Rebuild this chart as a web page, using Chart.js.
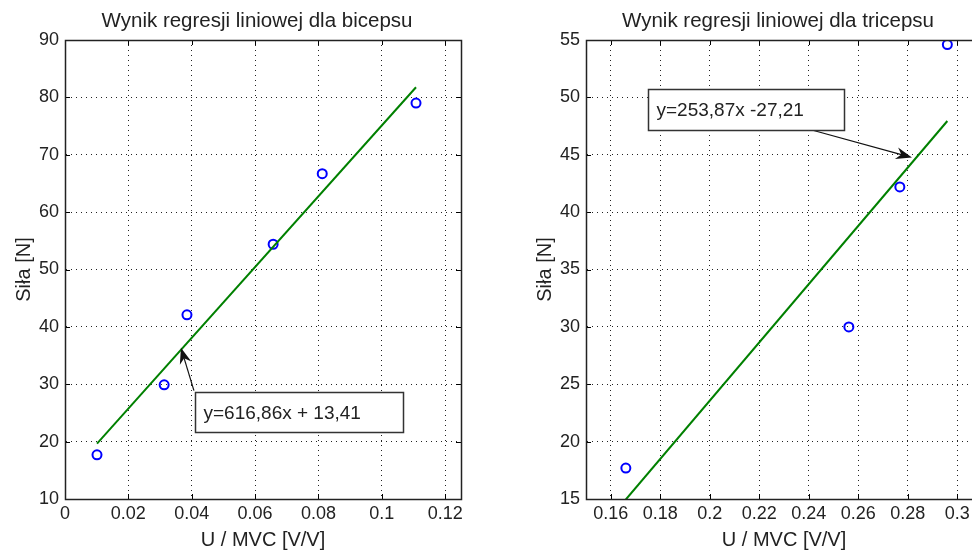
<!DOCTYPE html>
<html>
<head>
<meta charset="utf-8">
<script src="https://cdn.jsdelivr.net/npm/chart.js@4.4.0/dist/chart.umd.min.js"></script>
<style>
    html, body { margin: 0; padding: 0; background: #fff; overflow: hidden; width: 972px; height: 554px; }
    .panel { position: absolute; top: 0; width: 486px; height: 554px; }
</style>
</head>
<body>
<div class="panel" style="left:0"><canvas id="bicepsChart" width="486" height="554"></canvas></div>
<div class="panel" style="left:521px"><canvas id="tricepsChart" width="486" height="554"></canvas></div>
<script>
// biceps: measured points and fitted line
const bicepsX = [0.0101, 0.0313, 0.0385, 0.0657, 0.0812, 0.1108];
const bicepsY = [17.7, 29.9, 42.1, 54.4, 66.7, 79.0];
const bicepsFitX = [0.0101, 0.1108];
const bicepsFitY = [19.64, 81.76];
const bicepsXTicks = [0, 0.02, 0.04, 0.06, 0.08, 0.1, 0.12];
const bicepsYTicks = [10, 20, 30, 40, 50, 60, 70, 80, 90];
const bicepsEquation = 'y=616,86x + 13,41';

// triceps: measured points and fitted line
const tricepsX = [0.1661, 0.2562, 0.2768, 0.2960];
const tricepsY = [17.7, 30.0, 42.2, 54.6];
const tricepsFitX = [0.1661, 0.2960];
const tricepsFitY = [14.96, 47.94];
const tricepsXTicks = [0.16, 0.18, 0.2, 0.22, 0.24, 0.26, 0.28, 0.3];
const tricepsYTicks = [15, 20, 25, 30, 35, 40, 45, 50, 55];
const tricepsEquation = 'y=253,87x -27,21';

const FONT = '"Liberation Sans", Arial, sans-serif';

function toPoints(xs, ys) {
    return xs.map((x, i) => ({ x: x, y: ys[i] }));
}

function fmt(v) {
    return String(Number(v.toFixed(2)));
}

// title, box around the plot, inner tick marks and the equation callout
const framePlugin = {
    id: 'frame',
    afterDatasetsDraw(chart, args, opts) {
        const { ctx, chartArea: a, scales: { x, y } } = chart;
        ctx.save();
        ctx.strokeStyle = '#000';
        ctx.lineWidth = 1;
        ctx.setLineDash([]);
        ctx.beginPath();
        x.ticks.forEach(t => {
            const px = Math.round(x.getPixelForValue(t.value)) + 0.5;
            ctx.moveTo(px, a.bottom); ctx.lineTo(px, a.bottom - 5);
            ctx.moveTo(px, a.top); ctx.lineTo(px, a.top + 5);
        });
        y.ticks.forEach(t => {
            const py = Math.round(y.getPixelForValue(t.value)) + 0.5;
            ctx.moveTo(a.left, py); ctx.lineTo(a.left + 5, py);
            ctx.moveTo(a.right, py); ctx.lineTo(a.right - 5, py);
        });
        ctx.stroke();
        ctx.lineWidth = 1.5;
        ctx.strokeStyle = '#222';
        ctx.strokeRect(Math.round(a.left) + 0.5, Math.round(a.top) + 0.5,
            Math.round(a.right) - Math.round(a.left), Math.round(a.bottom) - Math.round(a.top));

        // title
        ctx.fillStyle = '#222';
        ctx.font = '20.5px ' + FONT;
        ctx.textAlign = 'center';
        ctx.textBaseline = 'middle';
        ctx.fillText(opts.title, (a.left + a.right) / 2 - 6, 21);

        const n = opts.note;
        if (n) {
            // arrow
            const tx = x.getPixelForValue(n.arrow[0]), ty = y.getPixelForValue(n.arrow[1]);
            const hx = x.getPixelForValue(n.arrow[2]), hy = y.getPixelForValue(n.arrow[3]);
            const c = Math.cos(Math.atan2(hy - ty, hx - tx)), s = Math.sin(Math.atan2(hy - ty, hx - tx));
            ctx.strokeStyle = '#111';
            ctx.fillStyle = '#111';
            ctx.lineWidth = 1.2;
            ctx.beginPath();
            ctx.moveTo(tx, ty);
            ctx.lineTo(hx - 10 * c, hy - 10 * s);
            ctx.stroke();
            ctx.beginPath();
            ctx.moveTo(hx, hy);
            ctx.lineTo(hx - 16 * c + 6 * s, hy - 16 * s - 6 * c);
            ctx.lineTo(hx - 11 * c, hy - 11 * s);
            ctx.lineTo(hx - 16 * c - 6 * s, hy - 16 * s + 6 * c);
            ctx.closePath();
            ctx.fill();

            // text box
            const bx1 = Math.round(x.getPixelForValue(n.box[0])) + 0.5;
            const by1 = Math.round(y.getPixelForValue(n.box[1])) + 0.5;
            const bx2 = Math.round(x.getPixelForValue(n.box[2])) + 0.5;
            const by2 = Math.round(y.getPixelForValue(n.box[3])) + 0.5;
            ctx.fillStyle = '#fff';
            ctx.fillRect(bx1, by1, bx2 - bx1, by2 - by1);
            ctx.strokeStyle = '#333';
            ctx.lineWidth = 1.5;
            ctx.strokeRect(bx1, by1, bx2 - bx1, by2 - by1);
            ctx.fillStyle = '#222';
            ctx.font = '19px ' + FONT;
            ctx.textBaseline = 'middle';
            ctx.textAlign = 'left';
            ctx.fillText(n.text, bx1 + 8, (by1 + by2) / 2 + 1);
        }
        ctx.restore();
    }
};

function makeChart(id, title, xs, ys, fitXs, fitYs, xTicks, yTicks, xRange, note) {
    return new Chart(document.getElementById(id), {
        type: 'scatter',
        data: {
            datasets: [
                {
                    data: toPoints(fitXs, fitYs),
                    showLine: true,
                    borderColor: '#008000',
                    borderWidth: 2,
                    pointRadius: 0
                },
                {
                    data: toPoints(xs, ys),
                    pointStyle: 'circle',
                    pointRadius: 4.5,
                    borderColor: '#0000ff',
                    backgroundColor: 'rgba(0,0,0,0)',
                    borderWidth: 2
                }
            ]
        },
        options: {
            responsive: false,
            animation: false,
            layout: { padding: { left: 0, right: 25, top: 40, bottom: 0 } },
            plugins: {
                legend: { display: false },
                tooltip: { enabled: false },
                title: { display: false },
                frame: { note: note, title: title }
            },
            scales: {
                x: {
                    type: 'linear',
                    min: xRange[0],
                    max: xRange[1],
                    afterFit: s => { s.height = 55; },
                    afterBuildTicks: s => { s.ticks = xTicks.map(v => ({ value: v })); },
                    ticks: {
                        color: '#222',
                        padding: 4,
                        font: { family: FONT, size: 18 },
                        callback: v => fmt(v)
                    },
                    grid: { color: '#222', drawTicks: false, lineWidth: 1 },
                    border: { display: true, color: '#222', dash: [1, 4] },
                    title: {
                        display: true,
                        text: 'U / MVC [V/V]',
                        color: '#222',
                        font: { family: FONT, size: 20 },
                        padding: { top: 0, bottom: 2 }
                    }
                },
                y: {
                    type: 'linear',
                    min: yTicks[0],
                    max: yTicks[yTicks.length - 1],
                    afterFit: s => { s.width = 65; },
                    afterBuildTicks: s => { s.ticks = yTicks.map(v => ({ value: v })); },
                    ticks: {
                        color: '#222',
                        padding: 6,
                        font: { family: FONT, size: 18 }
                    },
                    grid: { color: '#222', drawTicks: false, lineWidth: 1 },
                    border: { display: true, color: '#222', dash: [1, 4] },
                    title: {
                        display: true,
                        text: 'Siła [N]',
                        color: '#222',
                        font: { family: FONT, size: 20 },
                        padding: { top: 12, bottom: 0 }
                    }
                }
            }
        },
        plugins: [framePlugin]
    });
}

makeChart('bicepsChart', 'Wynik regresji liniowej dla bicepsu',
    bicepsX, bicepsY, bicepsFitX, bicepsFitY, bicepsXTicks, bicepsYTicks, [0, 0.125],
    { text: bicepsEquation, box: [0.041, 28.7, 0.1068, 21.7], arrow: [0.0407, 28.9, 0.0366, 36.35] });

makeChart('tricepsChart', 'Wynik regresji liniowej dla tricepsu',
    tricepsX, tricepsY, tricepsFitX, tricepsFitY, tricepsXTicks, tricepsYTicks, [0.15, 0.31],
    { text: tricepsEquation, box: [0.175, 50.7, 0.2542, 47.2], arrow: [0.2405, 47.2, 0.2817, 44.76] });
</script>
</body>
</html>
